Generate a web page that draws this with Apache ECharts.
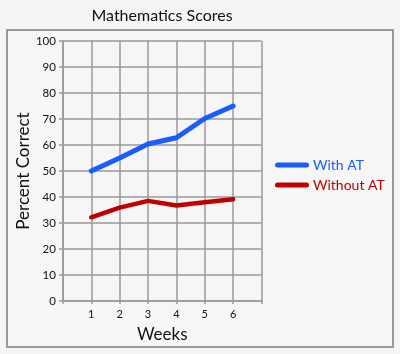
<!DOCTYPE html>
<html><head><meta charset="utf-8">
<script src="https://cdn.jsdelivr.net/npm/echarts@6/dist/echarts.min.js"></script>
<style>html,body{margin:0;padding:0;background:#f5f5f5;}#c{width:400px;height:354px;}</style>
</head><body><div id="c"></div>
<script>
const weeks = [1, 2, 3, 4, 5, 6];
const withAT = [50, 55, 60.4, 62.8, 70.2, 75];
const withoutAT = [32.2, 35.9, 38.5, 36.7, 38, 39.1];
const yTicks = [0, 10, 20, 30, 40, 50, 60, 70, 80, 90, 100];

const chart = echarts.init(document.getElementById('c'));
const FONT = 'Lato';
const gridColor = '#9a9a9a';
chart.setOption({
  backgroundColor: '#f5f5f5',
  animation: false,
  title: {
    text: 'Mathematics Scores', left: 157, top: 3, textAlign: 'center',
    textStyle: { fontFamily: FONT, fontSize: 16, fontWeight: 'normal', color: '#111' }
  },
  graphic: [{
    type: 'rect', left: 6, top: 29, z: 0,
    shape: { width: 386, height: 317 },
    style: { fill: '#f6f6f6', stroke: '#999', lineWidth: 2 }
  }],
  legend: {
    orient: 'vertical', left: 270, top: 153, itemGap: 6,
    itemWidth: 34, itemHeight: 5,
    icon: 'path://M2.5,0 L31.5,0 A2.5,2.5 0 0 1 31.5,5 L2.5,5 A2.5,2.5 0 0 1 2.5,0 Z',
    textStyle: { fontFamily: FONT, fontSize: 14, padding: [0, 0, 0, -1] },
    data: [
      { name: 'With AT', textStyle: { color: '#1a5cff' } },
      { name: 'Without AT', textStyle: { color: '#c00000' } }
    ]
  },
  grid: { left: 56, right: 138.5, top: 41, bottom: 53, containLabel: false },
  xAxis: {
    type: 'value', min: 0, max: 7, interval: 1,
    name: 'Weeks', nameLocation: 'middle', nameGap: 25,
    nameTextStyle: { fontFamily: FONT, fontSize: 17, color: '#111' },
    axisLine: { show: true, lineStyle: { color: gridColor, width: 1.5 } },
    axisTick: { show: true, length: 3, lineStyle: { color: gridColor, width: 1.5 } },
    splitLine: { show: true, lineStyle: { color: gridColor, width: 1.5 } },
    axisLabel: {
      fontFamily: FONT, fontSize: 11, color: '#111', margin: 8,
      formatter: v => (weeks.indexOf(v) >= 0 ? String(v) : '')
    }
  },
  yAxis: {
    type: 'value', min: yTicks[0], max: yTicks[yTicks.length - 1], interval: 10,
    name: 'Percent Correct', nameLocation: 'middle', nameGap: 29,
    nameTextStyle: { fontFamily: FONT, fontSize: 17, color: '#111' },
    axisLine: { show: true, lineStyle: { color: gridColor, width: 1.5 } },
    axisTick: { show: true, length: 4, lineStyle: { color: gridColor, width: 1.5 } },
    splitLine: { show: true, lineStyle: { color: gridColor, width: 1.5 } },
    axisLabel: { fontFamily: FONT, fontSize: 11.5, color: '#111', margin: 7 }
  },
  series: [
    {
      name: 'With AT', type: 'line', showSymbol: false, symbol: 'none',
      data: weeks.map((w, i) => [w, withAT[i]]),
      lineStyle: { color: '#1a5cff', width: 5, cap: 'round', join: 'round' },
      itemStyle: { color: '#1a5cff' }
    },
    {
      name: 'Without AT', type: 'line', showSymbol: false, symbol: 'none',
      data: weeks.map((w, i) => [w, withoutAT[i]]),
      lineStyle: { color: '#c00000', width: 4.5, cap: 'round', join: 'round' },
      itemStyle: { color: '#c00000' }
    }
  ]
});
</script></body></html>
